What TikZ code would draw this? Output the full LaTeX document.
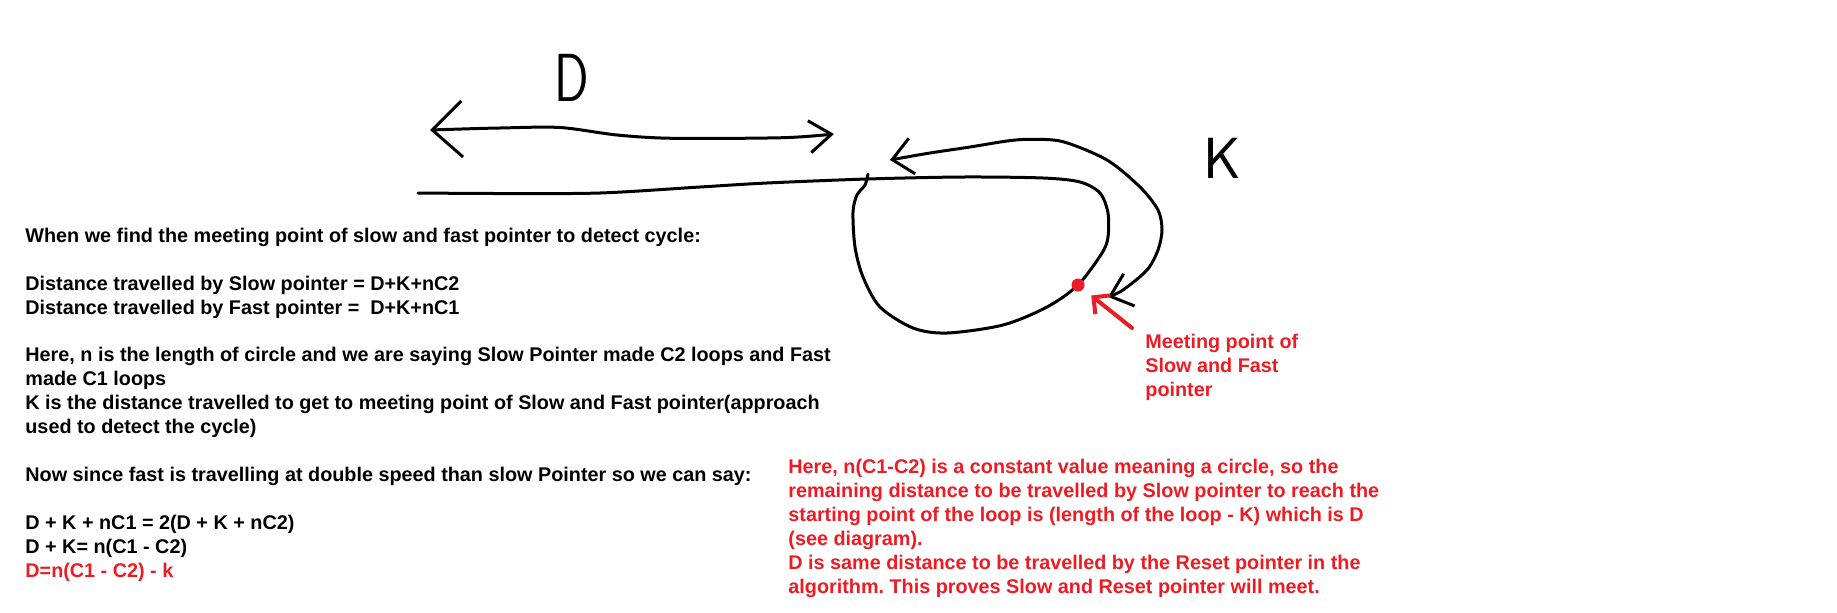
\documentclass[tikz,border=0pt]{standalone}
\usepackage{fontspec}
\setmainfont{Liberation Sans}
\usepackage{tikz}
\usetikzlibrary{arrows.meta}
\definecolor{paintred}{RGB}{237,28,36}

\begin{document}
\begin{tikzpicture}[x=0.5pt, y=-0.5pt,
  ink/.style={line width=1.5pt, line cap=round, line join=round},
  note/.style={anchor=north west, inner sep=0pt, align=left,
    font=\fontsize{9.9}{11.96}\selectfont\bfseries\frenchspacing},
  hand/.style={inner sep=0pt}]
  \useasboundingbox (0,0) rectangle (1837,612);
  % List tail running into the cycle
  \draw[ink] plot[smooth] coordinates {(418,193) (500,193.5) (600,193) (700,187)
    (767,183) (867,179) (963,177) (1043,178) (1080,182) (1100,193) (1108,213)
    (1108,237) (1102,253) (1078,285) (1047,307) (1003,325) (947,333) (913,328)
    (880,307) (863,277) (855,247) (853,212) (857,195) (865,185) (868,174)};
  % Distance D
  \draw[ink, {Straight Barb[length=15pt,width=28pt]}-{Straight Barb[length=11pt,width=16pt]}]
    plot[smooth] coordinates {(430,130) (500,128) (560,127.5) (617,135) (673,138.3)
    (783,137.7) (834,134)};
  \node[hand, font=\sffamily\fontsize{34}{34}\selectfont] (dlabel) at (572,78) {\scalebox{0.75}[1]{D}};
  % Distance K round the loop
  \draw[ink, {Straight Barb[length=10pt,width=18pt]}-{Straight Barb[length=10pt,width=17pt]}]
    plot[smooth] coordinates {(890,160) (930,153) (970,147) (1007,141) (1030,139.3)
    (1063,141.7) (1107,160) (1140,187) (1158,210) (1162,230) (1158,250) (1147,270)
    (1123,290) (1108,297)};
  \node[hand, font=\sffamily\fontsize{29}{29}\selectfont] (klabel) at (1222,158) {K};
  % Meeting point
  \node[circle, fill=paintred, inner sep=0pt, minimum size=6.5pt] (meet) at (1078,285) {};
  \node[note, text=paintred] (meetlabel) at (1145,334) {Meeting point of\\Slow and Fast\\pointer};
  \coordinate (tail) at ([shift={(-13,-6)}]meetlabel.north west);
  \draw[line width=2pt, paintred, line cap=round, -{Straight Barb[length=6pt,width=12pt]},
    shorten >=5pt] (tail) -- (meet);
  % Derivation
  \node[note] (steps) at (25,227.5) {When we find the meeting point of slow and fast pointer to detect cycle:\\[\baselineskip]
    Distance travelled by Slow pointer = D+K+nC2\\
    Distance travelled by Fast pointer =\ \ D+K+nC1\\[\baselineskip]
    Here, n is the length of circle and we are saying Slow Pointer made C2 loops and Fast\\
    made C1 loops\\
    K is the distance travelled to get to meeting point of Slow and Fast pointer(approach\\
    used to detect the cycle)\\[\baselineskip]
    Now since fast is travelling at double speed than slow Pointer so we can say:\\[\baselineskip]
    D + K + nC1 = 2(D + K + nC2)\\
    D + K= n(C1 - C2)\\
    \textcolor{paintred}{D=n(C1 - C2) - k}};
  \node[note, text=paintred] (proof) at (788,459) {Here, n(C1-C2) is a constant value meaning a circle, so the\\
    remaining distance to be travelled by Slow pointer to reach the\\
    starting point of the loop is (length of the loop - K) which is D\\
    (see diagram).\\
    D is same distance to be travelled by the Reset pointer in the\\
    algorithm. This proves Slow and Reset pointer will meet.};
\end{tikzpicture}
\end{document}
